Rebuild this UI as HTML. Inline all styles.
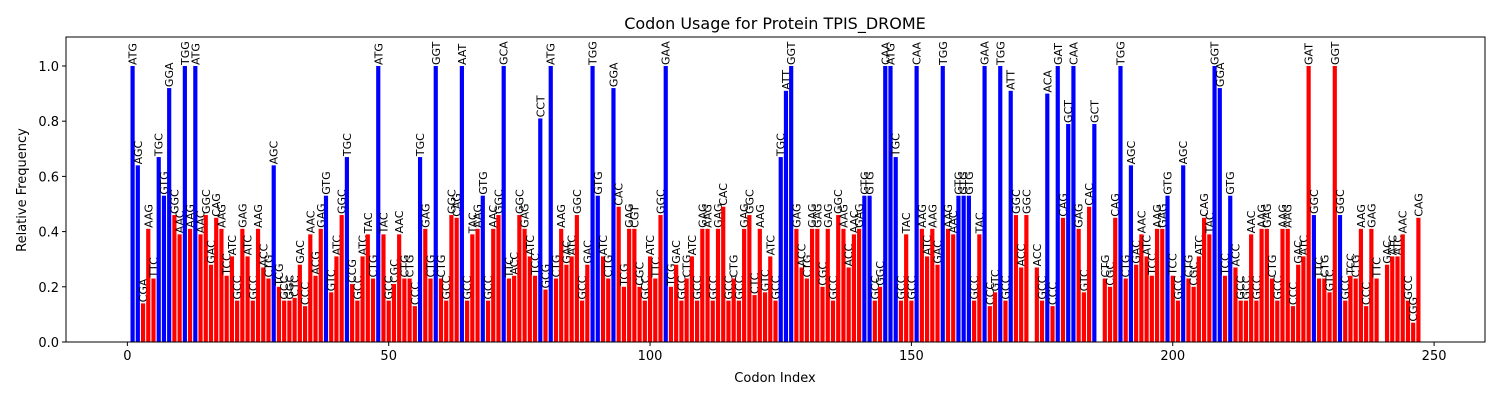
<!DOCTYPE html>
<html><head><meta charset="utf-8"><style>
body{margin:0;background:#fff;}
svg{display:block;font-family:"DejaVu Sans","Liberation Sans",sans-serif;}
</style></head><body>
<svg id="chart" width="1500" height="400" xmlns="http://www.w3.org/2000/svg">
<text x="775" y="29" text-anchor="middle" font-size="16">Codon Usage for Protein TPIS_DROME</text>
<g id="bars"></g>
<g id="axes"></g>
<text x="775" y="382" text-anchor="middle" font-size="13">Codon Index</text>
<text transform="translate(26,190) rotate(-90)" text-anchor="middle" font-size="13">Relative Frequency</text>
</svg>
<script>
const codons = ["ATG","AGC","CGA","AAG","TTC","TGC","GTG","GGA","GGC","AAC","TGG","AAG","ATG","AAC","GGC","GAC","CAG","AAG","TCC","ATC","GCC","GAG","ATC","GCC","AAG","ACC","CTG","AGC","TCG","GCC","GGC","CTC","GAC","CCC","AAC","ACG","GAG","GTG","GTC","ATC","GGC","TGC","CCG","GCC","ATC","TAC","CTG","ATG","TAC","GCC","CGC","AAC","CTG","CTG","CCC","TGC","GAG","CTG","GGT","CTG","GCC","GGC","CAG","AAT","GCC","TAC","AAG","GTG","GCC","AAC","GGC","GCA","TTC","ACC","GGC","GAG","ATC","TCC","CCT","GCG","ATG","CTG","AAG","GAC","ATC","GGC","GCC","GAC","TGG","GTG","ATC","CTG","GGA","CAC","TCG","GAG","CGT","CGC","GCC","ATC","TTC","GGC","GAA","TCG","GAC","GCC","CTG","ATC","GCC","GAG","AAG","GCC","GAG","CAC","GCC","CTG","GCC","GAG","GGC","CTC","AAG","GTC","ATC","GCC","TGC","ATT","GGT","GAG","ACC","CTG","GAG","GAG","CGC","GAG","GCC","GGC","AAG","ACC","AAC","GAG","GTG","GTG","GCC","GGC","CAA","ATG","TGC","GCC","TAC","GCC","CAA","AAG","ATC","AAG","GAC","TGG","AAG","AAC","GTG","GTG","GTG","GCC","TAC","GAA","CCC","GTC","TGG","GCC","ATT","GGC","ACC","GGC","","ACC","GCC","ACA","CCC","GAT","CAG","GCT","CAA","GAG","GTC","CAC","GCT","","CTG","CGC","CAG","TGG","CTG","AGC","GAC","AAC","ATC","TCC","AAG","GAG","GTG","TCC","GCC","AGC","CTG","CGC","ATC","CAG","TAC","GGT","GGA","TCC","GTG","ACC","GCC","GCC","AAC","GCC","AAG","GAG","CTG","GCC","AAG","AAG","CCC","GAC","ATC","GAT","GGC","TTC","CTG","GTC","GGT","GGC","GCC","TCC","CTG","AAG","CCC","GAG","TTC","","GAC","ATC","ATC","AAC","GCC","CGG","CAG"];
const freqs = [1.0,0.64,0.14,0.41,0.23,0.67,0.53,0.92,0.46,0.39,1.0,0.41,1.0,0.39,0.46,0.28,0.45,0.41,0.24,0.31,0.15,0.41,0.31,0.15,0.41,0.27,0.23,0.64,0.2,0.15,0.15,0.16,0.28,0.13,0.39,0.24,0.41,0.53,0.18,0.31,0.46,0.67,0.21,0.15,0.31,0.39,0.23,1.0,0.39,0.15,0.21,0.39,0.23,0.23,0.13,0.67,0.41,0.23,1.0,0.23,0.15,0.46,0.45,1.0,0.15,0.39,0.41,0.53,0.15,0.41,0.46,1.0,0.23,0.24,0.46,0.41,0.31,0.24,0.81,0.19,1.0,0.23,0.41,0.28,0.31,0.46,0.15,0.28,1.0,0.53,0.31,0.23,0.92,0.49,0.2,0.41,0.41,0.2,0.15,0.31,0.23,0.46,1.0,0.2,0.28,0.15,0.23,0.31,0.15,0.41,0.41,0.15,0.41,0.49,0.15,0.23,0.15,0.41,0.46,0.17,0.41,0.18,0.31,0.15,0.67,0.91,1.0,0.41,0.27,0.23,0.41,0.41,0.2,0.41,0.15,0.46,0.41,0.27,0.39,0.41,0.53,0.53,0.15,0.2,1.0,1.0,0.67,0.15,0.39,0.15,1.0,0.41,0.31,0.41,0.28,1.0,0.41,0.39,0.53,0.53,0.53,0.15,0.39,1.0,0.13,0.18,1.0,0.15,0.91,0.46,0.27,0.46,0,0.27,0.15,0.9,0.13,1.0,0.45,0.79,1.0,0.41,0.18,0.49,0.79,0,0.23,0.2,0.45,1.0,0.23,0.64,0.28,0.39,0.31,0.24,0.41,0.41,0.53,0.24,0.15,0.64,0.23,0.2,0.31,0.45,0.39,1.0,0.92,0.24,0.53,0.27,0.15,0.15,0.39,0.15,0.41,0.41,0.23,0.15,0.41,0.41,0.13,0.28,0.31,1.0,0.46,0.23,0.23,0.18,1.0,0.46,0.15,0.24,0.23,0.41,0.13,0.41,0.23,0,0.28,0.31,0.31,0.39,0.15,0.07,0.45];
const preferred = [1,1,0,0,0,1,1,1,0,0,1,0,1,0,0,0,0,0,0,0,0,0,0,0,0,0,0,1,0,0,0,0,0,0,0,0,0,1,0,0,0,1,0,0,0,0,0,1,0,0,0,0,0,0,0,1,0,0,1,0,0,0,0,1,0,0,0,1,0,0,0,1,0,0,0,0,0,0,1,0,1,0,0,0,0,0,0,0,1,1,0,0,1,0,0,0,0,0,0,0,0,0,1,0,0,0,0,0,0,0,0,0,0,0,0,0,0,0,0,0,0,0,0,0,1,1,1,0,0,0,0,0,0,0,0,0,0,0,0,0,1,1,0,0,1,1,1,0,0,0,1,0,0,0,0,1,0,0,1,1,1,0,0,1,0,0,1,0,1,0,0,0,0,0,0,1,0,1,0,1,1,0,0,0,1,0,0,0,0,1,0,1,0,0,0,0,0,0,1,0,0,1,0,0,0,0,0,1,1,0,1,0,0,0,0,0,0,0,0,0,0,0,0,0,0,0,1,0,0,0,0,1,0,0,0,0,0,0,0,0,0,0,0,0,0,0,0,0];
const xTicks = [0,50,100,150,200,250];
const yTicks = [0.0,0.2,0.4,0.6,0.8,1.0];
const yTickLabels = ["0.0","0.2","0.4","0.6","0.8","1.0"];

const L=66,R=1485,T=37,B=342;
const xMin=-11.74,xMax=259.74,yMax=1.105;
const xs=v=>L+(v-xMin)/(xMax-xMin)*(R-L);
const ys=v=>B-v/yMax*(B-T);
const NS="http://www.w3.org/2000/svg";
const bars=document.getElementById('bars');
const axes=document.getElementById('axes');
const bw=(xs(0.8)-xs(0));
freqs.forEach((f,i)=>{
  if(!codons[i]) return;
  const idx=i+1;
  const r=document.createElementNS(NS,'rect');
  
  
  r.setAttribute('x',xs(idx)-bw/2);
  r.setAttribute('y',ys(f));
  r.setAttribute('width',bw);
  r.setAttribute('height',ys(0)-ys(f));
  r.setAttribute('fill',preferred[i]?'#0000ff':'#ff0000');
  bars.appendChild(r);
  const t=document.createElementNS(NS,'text');
  
  
  t.setAttribute('transform','translate('+(xs(idx)+4)+','+(ys(f)-1)+') rotate(-90)');
  t.setAttribute('font-size','11');
  t.textContent=codons[i];
  bars.appendChild(t);
});
const frame=document.createElementNS(NS,'rect');


frame.setAttribute('x',L);frame.setAttribute('y',T);
frame.setAttribute('width',R-L);frame.setAttribute('height',B-T);
frame.setAttribute('fill','none');frame.setAttribute('stroke','#000');frame.setAttribute('stroke-width','1');
axes.appendChild(frame);
xTicks.forEach(v=>{
  const l=document.createElementNS(NS,'line');
  
  
  l.setAttribute('x1',xs(v));l.setAttribute('x2',xs(v));l.setAttribute('y1',B);l.setAttribute('y2',B+4);l.setAttribute('stroke','#000');
  axes.appendChild(l);
  const t=document.createElementNS(NS,'text');
  
  
  t.setAttribute('x',xs(v));t.setAttribute('y',B+18);t.setAttribute('text-anchor','middle');t.setAttribute('font-size','13');
  t.textContent=v;
  axes.appendChild(t);
});
yTicks.forEach((v,i)=>{
  const l=document.createElementNS(NS,'line');
  
  
  l.setAttribute('x1',L-4);l.setAttribute('x2',L);l.setAttribute('y1',ys(v));l.setAttribute('y2',ys(v));l.setAttribute('stroke','#000');
  axes.appendChild(l);
  const t=document.createElementNS(NS,'text');
  
  
  t.setAttribute('x',L-7);t.setAttribute('y',ys(v)+5);t.setAttribute('text-anchor','end');t.setAttribute('font-size','13');
  t.textContent=yTickLabels[i];
  axes.appendChild(t);
});
</script>
</body></html>
